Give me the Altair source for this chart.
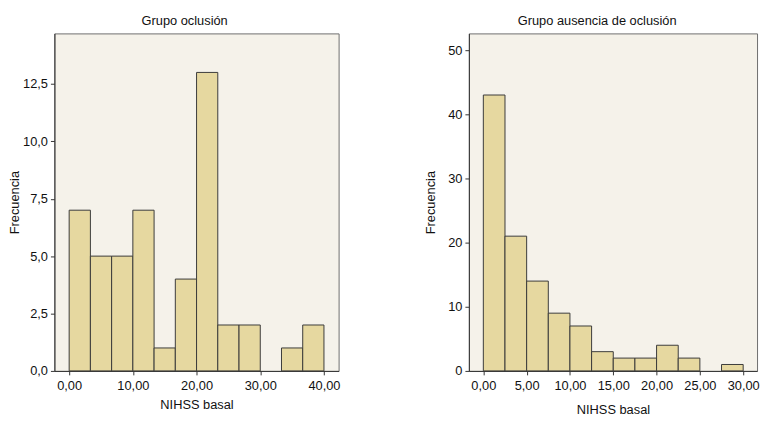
import altair as alt
import pandas as pd

# Left panel: Grupo oclusión
occ_start = [0.0, 3.333, 6.667, 10.0, 13.333, 16.667, 20.0, 23.333, 26.667, 30.0, 33.333, 36.667]
occ_end = [3.333, 6.667, 10.0, 13.333, 16.667, 20.0, 23.333, 26.667, 30.0, 33.333, 36.667, 40.0]
occ_count = [7, 5, 5, 7, 1, 4, 13, 2, 2, 0, 1, 2]

# Right panel: Grupo ausencia de oclusión
non_start = [0.0, 2.5, 5.0, 7.5, 10.0, 12.5, 15.0, 17.5, 20.0, 22.5, 25.0, 27.5]
non_end = [2.5, 5.0, 7.5, 10.0, 12.5, 15.0, 17.5, 20.0, 22.5, 25.0, 27.5, 30.0]
non_count = [43, 21, 14, 9, 7, 3, 2, 2, 4, 2, 0, 1]

occ_xticks = [0, 10, 20, 30, 40]
occ_yticks = [0, 2.5, 5, 7.5, 10, 12.5]
non_xticks = [0, 5, 10, 15, 20, 25, 30]
non_yticks = [0, 10, 20, 30, 40, 50]

FONT = "Liberation Sans"
FILL = "#e6d8a0"
STROKE = "#3a3a3a"

df_occ = pd.DataFrame({"a": occ_start, "b": occ_end, "n": occ_count})
df_occ = df_occ[df_occ.n > 0]
df_non = pd.DataFrame({"a": non_start, "b": non_end, "n": non_count})
df_non = df_non[df_non.n > 0]


def panel(df, title, title_dx, xdom, ydom, xticks, yticks, xfmt, yfmt, w, ytp, xtp):
    return alt.Chart(df, title=alt.TitleParams(
        title, fontSize=13, font=FONT, fontWeight="normal", color="#111",
        dx=title_dx, offset=6)).mark_rect(
        fill=FILL, stroke=STROKE, strokeWidth=1
    ).encode(
        x=alt.X("a:Q", scale=alt.Scale(domain=xdom, nice=False, zero=False),
                axis=alt.Axis(values=xticks, title="NIHSS basal",
                              labelExpr=f"replace(format(datum.value, '{xfmt}'), '.', ',')",
                              titlePadding=xtp)),
        x2="b:Q",
        y=alt.Y("n:Q", scale=alt.Scale(domain=ydom, nice=False),
                axis=alt.Axis(values=yticks, title="Frecuencia",
                              labelExpr=f"replace(format(datum.value, '{yfmt}'), '.', ',')",
                              titlePadding=ytp)),
        y2=alt.datum(0),
    ).properties(width=w, height=342)


left = panel(df_occ, "Grupo oclusión", -12, [-2.32, 42.3], [0, 14.7],
             occ_xticks, occ_yticks, ".2f", ".1f", 288, 1, 6)
right = panel(df_non, "Grupo ausencia de oclusión", -16, [-1.67, 31.6], [0, 52.6],
              non_xticks, non_yticks, ".2f", "d", 292, 10, 11)

chart = alt.hconcat(left, right, spacing=85).properties(
    padding={"left": 0, "top": 3, "right": 0, "bottom": 0},
    background="white",
).configure_view(
    fill="#f5f2ea", stroke="#6e6e6e", strokeWidth=1
).configure_axis(
    grid=False, domainColor="#333", tickColor="#333", tickSize=4,
    labelFont=FONT, titleFont=FONT, labelFontSize=13, titleFontSize=13,
    titleFontWeight="normal", labelColor="#111", titleColor="#111",
    labelPadding=3,
).configure_axisX(labelPadding=5)

chart.save("out.html", embed_options={"renderer": "svg", "actions": False})
